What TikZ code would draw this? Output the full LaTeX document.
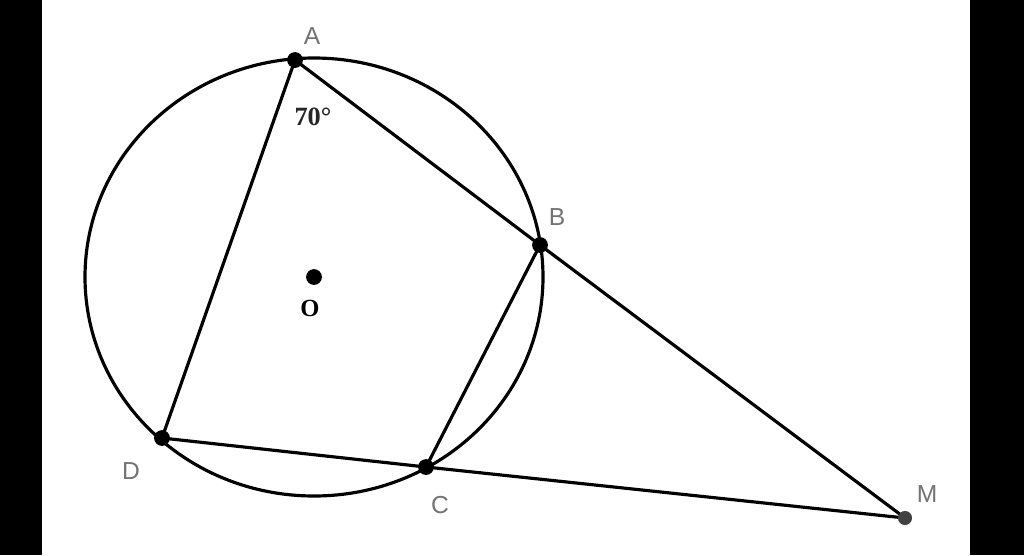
\documentclass[tikz,border=0pt]{standalone}
\usepackage{fontspec}
\newfontfamily\labelfont{Liberation Sans}
\newfontfamily\markfont{Liberation Serif}
\usetikzlibrary{positioning}
\definecolor{lblgray}{gray}{0.45}
\tikzset{
    seg/.style={line width=1.8pt, black},
    ptlabel/.style={font=\labelfont\fontsize{14}{16}\selectfont, text=lblgray, inner sep=0pt},
    dot/.style={circle, fill=black, inner sep=0pt, minimum size=9pt}
}
\begin{document}
\begin{tikzpicture}[x=0.02cm, y=-0.02cm]
    % Frame: black bars left and right
    \fill[black] (0,0) rectangle (1024,555);
    \fill[white] (42,0) rectangle (970,555);
    \useasboundingbox (0,0) rectangle (1024,555);

    % Points
    \coordinate (O) at (314,277);
    \coordinate (A) at (295,60);
    \coordinate (B) at (540,245);
    \coordinate (C) at (426,467);
    \coordinate (D) at (162,438);
    \coordinate (M) at (905,518);

    % The circle
    \draw[seg] (O) ellipse [x radius=229, y radius=219];

    % Chords and secants
    \draw[seg] (A) -- (D) -- (C) -- (B);
    \draw[seg] (A) -- (B) -- (M);
    \draw[seg] (C) -- (M);

    % Dots
    \foreach \p in {A,B,C,D,O} {
        \node[dot] (dot\p) at (\p) {};
    }
    \node[dot, fill=black!75, minimum size=8pt] (dotM) at (M) {};

    % Labels
    \node[ptlabel] (labA) at (312,36) {A};
    \node[ptlabel] (labB) at (557,217) {B};
    \node[ptlabel] (labC) at (440,505) {C};
    \node[ptlabel] (labD) at (131,471) {D};
    \node[ptlabel] (labM) at (927,494) {M};
    \node[font=\markfont\bfseries\fontsize{14}{16}\selectfont, inner sep=0pt] (labO) at (310,308) {O};
    \node[font=\markfont\bfseries\fontsize{15}{17}\selectfont, text=black!85, inner sep=0pt] (ang) at (313,117) {70°};
\end{tikzpicture}
\end{document}
